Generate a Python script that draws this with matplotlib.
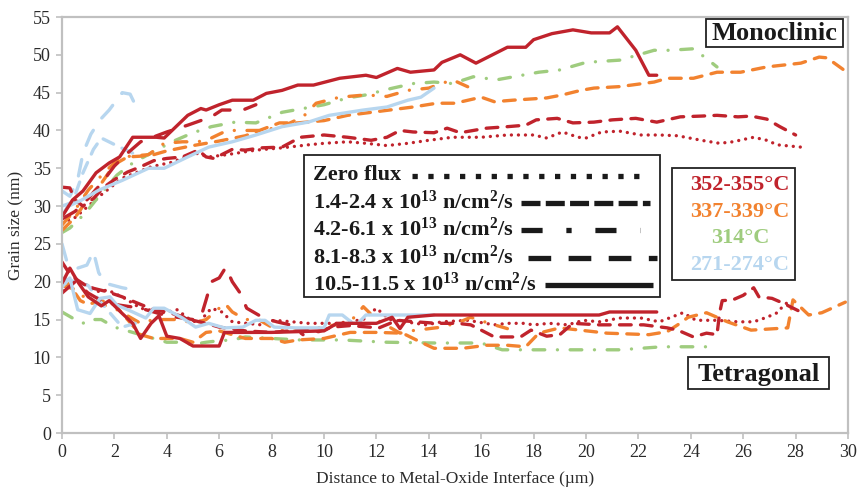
import matplotlib
matplotlib.use("Agg")
import matplotlib.pyplot as plt
from matplotlib.lines import Line2D
from matplotlib.patches import Rectangle

plt.rcParams['font.family'] = ['Liberation Serif', 'DejaVu Serif']
plt.rcParams['mathtext.fontset'] = 'custom'
plt.rcParams['mathtext.bf'] = 'Liberation Serif:bold'
plt.rcParams['mathtext.rm'] = 'Liberation Serif'
plt.rcParams['mathtext.default'] = 'bf'

# ---------------- data ----------------
# Monoclinic branch
red_solid_M_x = [0, 0.4, 0.8, 1.3, 1.8, 2.2, 2.7, 3.6, 3.9, 4.2, 4.8, 5.3, 5.5, 6.0, 6.5, 7.3, 7.8, 8.4, 9.0, 9.6, 10.6, 11.6, 12.0, 12.8, 13.3, 14.2, 14.5, 15.2, 15.8, 17.0, 17.7, 18.0, 18.7, 19.5, 20.2, 20.9, 21.2, 21.9, 22.4, 22.7]
red_solid_M_y = [28.6, 30.8, 32.0, 34.4, 35.7, 36.5, 39.1, 39.1, 39.0, 40.0, 42.0, 42.9, 42.7, 43.4, 44.0, 44.0, 44.9, 45.3, 46.0, 46.0, 46.9, 47.3, 47.0, 48.2, 47.7, 48.0, 49.0, 50.0, 48.9, 51.0, 51.0, 52.0, 52.8, 53.3, 52.9, 52.9, 53.7, 50.6, 47.3, 47.3]

red_dash_M_x = [0, 0.3, 0.5, 0.8, 1.2, 1.6, 2.0, 2.5, 3.0, 3.5, 4.0, 4.6, 5.2, 5.5, 5.8, 6.5, 7.0, 7.6, 8.4, 9.1, 10.0, 10.9, 11.8, 12.4, 12.9, 13.4, 14.2, 14.7, 15.2, 15.7, 16.2, 17.0, 17.7, 18.1, 18.9, 19.5, 20.3, 21.0, 21.9, 22.7, 23.6, 24.4, 25.0, 25.8, 26.3, 26.9, 27.4, 28.0]
red_dash_M_y = [32.5, 32.4, 30.8, 30.0, 31.0, 32.5, 33.5, 34.5, 35.2, 36.0, 36.3, 36.5, 37.4, 36.5, 36.3, 37.5, 37.4, 37.7, 37.8, 39.1, 39.4, 39.1, 38.7, 39.1, 40.0, 39.8, 39.7, 40.3, 39.7, 40.0, 40.3, 40.5, 40.7, 41.4, 41.6, 41.0, 41.1, 41.4, 41.6, 41.1, 41.8, 41.9, 42.0, 41.8, 41.9, 41.5, 40.5, 39.4]

red_dot_M_x = [0, 0.5, 1.0, 1.5, 2.3, 3.4, 4.2, 5.1, 5.6, 6.3, 7.4, 8.4, 9.4, 10.0, 10.9, 11.6, 12.4, 13.2, 14.0, 14.9, 16.0, 17.0, 18.0, 18.5, 19.1, 19.7, 20.0, 20.6, 21.3, 22.1, 22.8, 23.5, 24.4, 25.1, 25.6, 26.4, 26.9, 27.3, 28.2]
red_dot_M_y = [27.8, 28.5, 30.0, 31.5, 33.7, 35.2, 35.8, 37.0, 36.5, 36.8, 37.4, 37.7, 38.1, 38.3, 38.5, 38.3, 38.0, 38.3, 38.7, 39.1, 39.1, 39.4, 39.4, 39.0, 39.8, 39.1, 39.0, 39.8, 39.9, 39.4, 39.4, 39.3, 38.7, 38.3, 38.5, 39.1, 38.7, 38.1, 37.8]

red_long_M_x = [0, 0.5, 1.0, 1.5, 2.0, 2.5, 3.0, 4.0, 4.8, 5.7, 6.1, 6.9, 7.4]
red_long_M_y = [28.3, 29.3, 31.0, 33.0, 35.3, 37.0, 38.5, 39.8, 40.7, 41.8, 42.7, 42.7, 43.4]

orange_dash_M_x = [0, 0.5, 1.0, 1.5, 2.0, 2.5, 3.0, 3.5, 4.0, 5.0, 6.0, 7.0, 8.3, 9.0, 10.0, 10.9, 12.5, 13.4, 14.3, 15.0, 16.0, 16.5, 17.2, 18.5, 19.1, 19.8, 20.3, 21.3, 22.6, 23.1, 24.1, 25.0, 25.9, 26.9, 28.2, 28.9, 29.2, 30.0]
orange_dash_M_y = [26.8, 28.5, 31.0, 33.0, 35.5, 36.5, 36.6, 36.8, 37.3, 38.0, 38.6, 39.3, 41.0, 41.0, 41.3, 42.0, 42.7, 43.1, 43.6, 43.6, 44.4, 43.8, 44.0, 44.3, 44.7, 45.3, 45.6, 45.8, 46.4, 46.9, 46.9, 47.7, 47.7, 48.4, 48.9, 49.7, 49.6, 47.6]

orange_dd_M_x = [0, 0.5, 1.0, 1.6, 2.0, 2.3, 3.3, 3.9, 4.6, 5.2, 5.7, 6.3, 6.9, 7.6, 8.4, 9.2, 9.7, 10.6, 11.6, 12.4, 13.2, 14.0, 14.9, 15.6]
orange_dd_M_y = [27.5, 29.5, 32.1, 34.4, 35.7, 36.5, 36.8, 38.3, 38.5, 38.5, 39.0, 40.0, 40.0, 40.0, 40.5, 41.8, 43.6, 44.4, 44.7, 44.5, 45.3, 45.6, 46.7, 45.6]

green_M_x = [0, 0.3, 0.9, 1.5, 2.1, 2.7, 3.5, 4.2, 5.0, 5.7, 6.6, 7.4, 8.4, 10.0, 10.9, 11.6, 12.5, 13.4, 14.2, 14.9, 15.7, 16.6, 17.4, 18.2, 19.0, 20.0, 21.3, 22.6, 23.2, 24.1, 24.6, 25.0]
green_M_y = [26.5, 27.1, 29.1, 31.7, 34.1, 35.7, 37.2, 38.5, 39.7, 40.5, 41.1, 41.0, 42.4, 43.4, 44.3, 44.7, 45.5, 46.2, 46.4, 46.2, 47.1, 46.7, 47.2, 47.7, 48.0, 49.0, 49.3, 50.6, 50.6, 50.8, 49.5, 48.4]

lb_solid_M_x = [0, 0.2, 0.75, 1.4, 2.3, 3.3, 3.9, 4.8, 5.6, 6.5, 7.4, 8.4, 9.4, 10.2, 11.5, 12.4, 13.2, 13.7, 14.2]
lb_solid_M_y = [28.6, 29.9, 30.8, 32.1, 33.4, 35.0, 35.0, 36.5, 37.8, 38.5, 39.4, 40.5, 41.1, 42.0, 42.7, 43.1, 44.0, 44.4, 45.6]

lb_long_M_x = [0, 0.3, 0.6, 0.8, 1.1, 1.45, 1.8, 2.3, 2.6, 2.85]
lb_long_M_y = [32.0, 31.3, 33.5, 37.0, 39.5, 41.4, 42.7, 45.0, 44.8, 43.0]

lb_dash_M_x = [0, 0.4, 0.8, 1.2, 1.5, 2.2, 2.7]
lb_dash_M_y = [30.0, 30.5, 34.4, 37.5, 39.0, 37.8, 37.0]

# Tetragonal branch
red_solid_T_x = [0, 0.3, 0.6, 1.0, 1.5, 1.8, 2.3, 2.7, 3.0, 3.4, 3.7, 4.0, 4.5, 5.0, 6.0, 6.2, 8.0, 9.0, 10.0, 10.5, 12.0, 12.6, 12.9, 13.2, 14.2, 20.5, 20.9, 22.7]
red_solid_T_y = [19.8, 21.8, 20.0, 18.0, 16.8, 17.5, 15.8, 14.5, 12.5, 14.5, 15.5, 12.8, 12.5, 11.5, 11.5, 13.3, 13.3, 13.4, 13.5, 14.5, 14.5, 15.3, 13.8, 15.3, 15.6, 15.6, 16.0, 16.0]

red_dash_T_x = [0, 0.3, 0.6, 1.0, 1.7, 2.3, 3.0, 3.5, 4.0, 4.5, 5.0, 5.5, 6.0, 7.0, 8.0, 9.0, 9.8, 10.3, 11.0, 12.1, 12.8, 13.5, 14.3, 15.1, 15.6, 16.0, 16.5, 17.5, 17.9, 18.5, 19.0, 19.5, 20.5, 21.4, 22.2, 23.1, 23.5, 24.1, 24.6, 25.0, 25.1, 25.2, 25.6, 26.0, 26.4, 26.6, 27.1, 27.5, 28.2]
red_dash_T_y = [22.6, 21.0, 20.2, 19.3, 18.7, 18.0, 17.0, 16.3, 16.0, 15.5, 14.9, 14.5, 14.0, 13.5, 13.3, 13.6, 13.4, 14.0, 14.2, 13.9, 14.9, 14.7, 14.5, 14.5, 14.3, 13.6, 12.7, 12.7, 13.6, 12.8, 13.0, 14.5, 14.3, 14.3, 14.3, 13.9, 13.6, 12.7, 13.2, 13.0, 15.9, 17.5, 17.6, 18.2, 19.2, 18.0, 17.8, 17.2, 16.0]

red_long_T_x = [0, 0.5, 1.0, 1.5, 2.0, 3.0, 4.0, 5.0, 5.3, 5.5, 5.7, 6.0, 6.25, 6.5, 6.8, 7.05, 7.7, 8.2, 8.7, 9.2]
red_long_T_y = [18.5, 20.0, 18.5, 17.5, 17.0, 16.5, 15.5, 15.0, 15.3, 17.6, 20.0, 20.5, 21.9, 20.0, 18.5, 16.5, 15.2, 14.7, 14.3, 13.0]

red_dot_T_x = [0, 0.5, 1.0, 1.4, 1.75, 2.4, 3.0, 3.9, 4.4, 4.8, 5.2, 5.7, 6.1, 6.5, 7.6, 8.1, 8.8, 9.4, 10.5, 11.5, 12.0, 12.5, 13.9, 14.5, 15.5, 16.5, 17.0, 17.6, 18.0, 18.6, 19.3, 19.9, 20.5, 21.3, 22.1, 22.8, 23.7, 24.2, 25.0, 25.8, 26.4, 26.9, 27.3, 27.5, 27.7]
red_dot_T_y = [18.9, 20.2, 19.5, 18.7, 18.9, 17.8, 16.5, 15.9, 16.3, 15.2, 14.5, 16.5, 16.0, 14.7, 14.3, 14.9, 14.7, 14.5, 14.5, 15.0, 16.5, 15.0, 14.3, 14.7, 14.9, 14.3, 14.5, 14.5, 14.3, 14.5, 14.3, 14.9, 14.7, 15.2, 15.2, 14.7, 15.9, 14.9, 14.9, 14.7, 14.7, 15.3, 15.9, 16.7, 17.3]

orange_dash_T_x = [0, 0.3, 0.7, 1.0, 1.5, 2.0, 2.5, 3.0, 3.5, 4.0, 4.5, 5.0, 5.5, 6.0, 7.0, 8.0, 8.5, 9.0, 10.0, 11.0, 12.0, 13.0, 13.7, 14.2, 15.3, 16.2, 17.0, 17.7, 18.2, 19.0, 20.8, 22.4, 23.1, 23.5, 23.9, 24.6, 25.4, 26.3, 27.7, 27.9, 28.5, 29.0, 29.9]
orange_dash_T_y = [20.5, 19.5, 17.5, 17.0, 17.5, 17.0, 15.0, 13.0, 12.5, 12.5, 12.5, 12.0, 13.3, 13.5, 12.5, 12.5, 12.0, 12.3, 12.5, 13.3, 13.3, 13.2, 12.0, 11.2, 11.2, 11.6, 11.6, 11.4, 13.2, 13.9, 13.2, 13.0, 13.4, 14.3, 15.3, 15.9, 14.7, 13.6, 13.9, 17.6, 15.6, 15.9, 17.3]

orange_dd_T_x = [0, 0.5, 1.0, 1.5, 2.0, 2.5, 3.0, 3.5, 4.0, 4.5, 5.0, 5.5, 6.0, 6.2, 6.5, 7.0, 7.5, 8.0, 9.0, 10.0, 11.0, 11.5, 12.0, 12.9, 13.3, 14.5, 15.2, 15.6, 16.3, 17.0]
orange_dd_T_y = [19.5, 19.0, 17.5, 17.0, 16.5, 15.5, 14.5, 15.0, 15.0, 15.0, 14.5, 15.0, 16.5, 17.2, 16.0, 15.0, 15.0, 14.0, 13.5, 14.0, 14.7, 16.7, 15.0, 13.2, 13.5, 14.0, 14.7, 15.3, 14.5, 13.8]

green_T_x = [0, 0.5, 0.8, 1.0, 1.5, 2.0, 2.5, 3.0, 3.5, 4.0, 4.5, 5.0, 5.5, 6.0, 6.5, 7.0, 8.0, 9.1, 10.7, 12.4, 14.2, 16.0, 16.8, 17.7, 18.6, 21.3, 22.9, 24.7, 25.0]
green_T_y = [16.0, 15.0, 14.5, 15.0, 15.0, 14.0, 13.5, 13.0, 12.5, 12.0, 12.0, 11.7, 12.0, 12.2, 12.3, 12.7, 12.5, 12.3, 12.3, 12.0, 11.9, 11.9, 11.0, 11.0, 11.0, 11.0, 11.4, 11.4, 11.3]

lb_solid_T_x = [0, 0.3, 0.6, 1.07, 1.45, 1.83, 2.1, 2.7, 3.2, 3.5, 3.9, 4.6, 5.1, 5.6, 6.2, 6.9, 7.4, 7.75, 8.1, 8.9, 9.5, 10.0, 10.2, 10.7, 11.1, 11.3, 11.6, 14.2]
lb_solid_T_y = [19.3, 20.5, 16.3, 15.8, 17.8, 18.0, 16.9, 16.0, 15.2, 16.5, 16.5, 15.2, 14.0, 14.5, 13.9, 14.0, 14.9, 14.9, 14.0, 13.9, 13.9, 13.9, 15.6, 15.6, 14.5, 14.5, 15.6, 15.6]

lb_long_T_x = [0, 0.2, 0.6, 0.95, 1.2, 1.4, 1.65, 2.3, 2.8]
lb_long_T_y = [25.0, 22.5, 21.8, 22.2, 24.0, 21.2, 19.8, 19.2, 18.9]

lb_dash_T_x = [0, 0.5, 1.0, 1.5, 1.9, 2.3, 2.8]
lb_dash_T_y = [20.5, 20.0, 19.5, 17.2, 15.6, 14.0, 14.5]

flux_labels = ["Zero flux", "1.4-2.4 x 10$^{13}$ n/cm$^{2}$/s", "4.2-6.1 x 10$^{13}$ n/cm$^{2}$/s",
               "8.1-8.3 x 10$^{13}$ n/cm$^{2}$/s", "10.5-11.5 x 10$^{13}$ n/cm$^{2}$/s"]
temp_labels = ["352-355°C", "337-339°C", "314°C", "271-274°C"]
x_ticks = [0, 2, 4, 6, 8, 10, 12, 14, 16, 18, 20, 22, 24, 26, 28, 30]
y_ticks = [0, 5, 10, 15, 20, 25, 30, 35, 40, 45, 50, 55]

# ---------------- styles ----------------
RED, ORANGE, GREEN, LBLUE = "#C0232C", "#F2822F", "#9FCC7E", "#B7D6EF"
temp_colors = [RED, ORANGE, GREEN, LBLUE]
styles = {
    "dot": (0, (0.01, 2.1)),
    "dash": (0, (3.5, 2.8)),
    "dd": (0, (3.5, 3.8, 0.01, 3.8)),
    "long": (0, (5.0, 4.5)),
    "solid": "solid",
}

series = [
    (red_dot_M_x, red_dot_M_y, RED, "dot"),
    (red_dot_T_x, red_dot_T_y, RED, "dot"),
    (green_M_x, green_M_y, GREEN, "dd"),
    (green_T_x, green_T_y, GREEN, "dd"),
    (orange_dd_M_x, orange_dd_M_y, ORANGE, "dd"),
    (orange_dd_T_x, orange_dd_T_y, ORANGE, "dd"),
    (orange_dash_M_x, orange_dash_M_y, ORANGE, "dash"),
    (orange_dash_T_x, orange_dash_T_y, ORANGE, "dash"),
    (lb_long_M_x, lb_long_M_y, LBLUE, "long"),
    (lb_long_T_x, lb_long_T_y, LBLUE, "long"),
    (lb_dash_M_x, lb_dash_M_y, LBLUE, "dash"),
    (lb_dash_T_x, lb_dash_T_y, LBLUE, "dash"),
    (red_long_M_x, red_long_M_y, RED, "long"),
    (red_long_T_x, red_long_T_y, RED, "long"),
    (red_dash_M_x, red_dash_M_y, RED, "dash"),
    (red_dash_T_x, red_dash_T_y, RED, "dash"),
    (lb_solid_M_x, lb_solid_M_y, LBLUE, "solid"),
    (lb_solid_T_x, lb_solid_T_y, LBLUE, "solid"),
    (red_solid_M_x, red_solid_M_y, RED, "solid"),
    (red_solid_T_x, red_solid_T_y, RED, "solid"),
]

W, H = 858, 487
fig = plt.figure(figsize=(W / 100, H / 100), dpi=100)
ax = fig.add_axes([62 / W, 1 - 433 / H, (848 - 62) / W, (433 - 17) / H])

for xs, ys, c, st in series:
    ax.plot(xs, ys, color=c, lw=2.4, linestyle=styles[st],
            dash_capstyle="round", solid_capstyle="round", solid_joinstyle="round")

ax.set_xlim(0, 30)
ax.set_ylim(0, 55)
ax.set_xticks(x_ticks)
ax.set_yticks(y_ticks)
for s in ax.spines.values():
    s.set_color("#C0C0C0")
    s.set_linewidth(1.6)
ax.tick_params(axis="both", direction="out", length=4, width=1.2, color="#C0C0C0",
               labelsize=13, labelcolor="#2a2a2a", pad=4)
ax.set_xlabel("Distance to Metal-Oxide Interface (µm)", fontsize=12.5, color="#2a2a2a", labelpad=7)
ax.set_ylabel("Grain size (nm)", fontsize=12.5, color="#2a2a2a", labelpad=6)


def fx(px):
    return px / W


def fy(py):
    return 1 - py / H


# flux legend box
fig.patches.append(Rectangle((fx(304), fy(297)), (660 - 304) / W, (297 - 155) / H,
                             transform=fig.transFigure, fill=True, facecolor="white",
                             edgecolor="#222222", lw=1.3, zorder=5))
rows_y = [175, 202, 229, 257, 284]
line_start = [412, 521, 521, 528, 545]
line_end = [648, 650, 640, 657, 653]
leg_styles = [(0, (1, 2.0)), (0, (3.6, 1.0)), (0, (4.0, 4.5, 1.0, 4.5)), (0, (4.3, 3.3)), "solid"]
for lab, ry, ls0, le, lst in zip(flux_labels, rows_y, line_start, line_end, leg_styles):
    fig.text(fx(313), fy(ry), lab, fontsize=16, fontweight="bold", color="#1a1a1a",
             ha="left", va="center", zorder=6)
    fig.add_artist(Line2D([fx(ls0), fx(le)], [fy(ry + 1), fy(ry + 1)], color="#1a1a1a",
                          lw=3.8, linestyle=lst, dash_capstyle="butt", solid_capstyle="butt",
                          zorder=6))

# temperature box
fig.patches.append(Rectangle((fx(672), fy(280)), (795 - 672) / W, (280 - 168) / H,
                             transform=fig.transFigure, facecolor="white",
                             edgecolor="#222222", lw=1.3, zorder=5))
for lab, c, ry in zip(temp_labels, temp_colors, [185, 212, 238, 265]):
    fig.text(fx(740), fy(ry), lab, fontsize=16, fontweight="bold", color=c,
             ha="center", va="center", zorder=6)

# phase labels
for lab, x0, y0, x1, y1 in [("Monoclinic", 706, 19, 843, 47), ("Tetragonal", 688, 357, 829, 389)]:
    fig.patches.append(Rectangle((fx(x0), fy(y1)), (x1 - x0) / W, (y1 - y0) / H,
                                 transform=fig.transFigure, facecolor="white",
                                 edgecolor="#222222", lw=1.3, zorder=5))
    fig.text(fx((x0 + x1) / 2), fy((y0 + y1) / 2 + 1), lab, fontsize=19, fontweight="bold",
             color="#1a1a1a", ha="center", va="center", zorder=6)

fig.savefig("out.png", dpi=100)
